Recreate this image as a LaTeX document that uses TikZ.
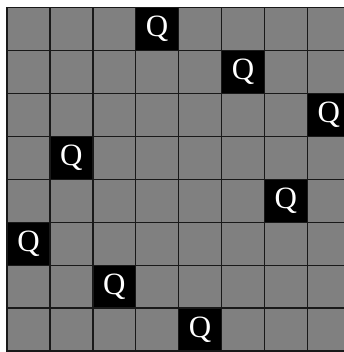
\documentclass[tikz,border=0pt]{standalone}
\usepackage{fontspec}
\setmainfont{Liberation Serif}
\begin{document}
\begin{tikzpicture}[x=1pt,y=-1pt,
  cell/.style={draw=black!90,line width=1.4pt,fill=gray,minimum size=42.9pt,inner sep=0pt,outer sep=0pt,anchor=north west},
  queen/.style={cell,fill=black,text=white,font=\fontsize{31}{31}\selectfont}]
\useasboundingbox (0,0) rectangle (344,352);
\begin{scope}
\clip (0,0) rectangle (344,352);
\foreach \r/\q in {0/3,1/5,2/7,3/1,4/6,5/0,6/2,7/4}{
  \foreach \c in {0,...,7}{
    \ifnum\c=\q
      \node[queen] (c\r\c) at ({7+42.9*\c},{7.8+42.9*\r}) {Q};
    \else
      \node[cell] (c\r\c) at ({7+42.9*\c},{7.8+42.9*\r}) {};
    \fi
  }
}
\end{scope}
\end{tikzpicture}
\end{document}
